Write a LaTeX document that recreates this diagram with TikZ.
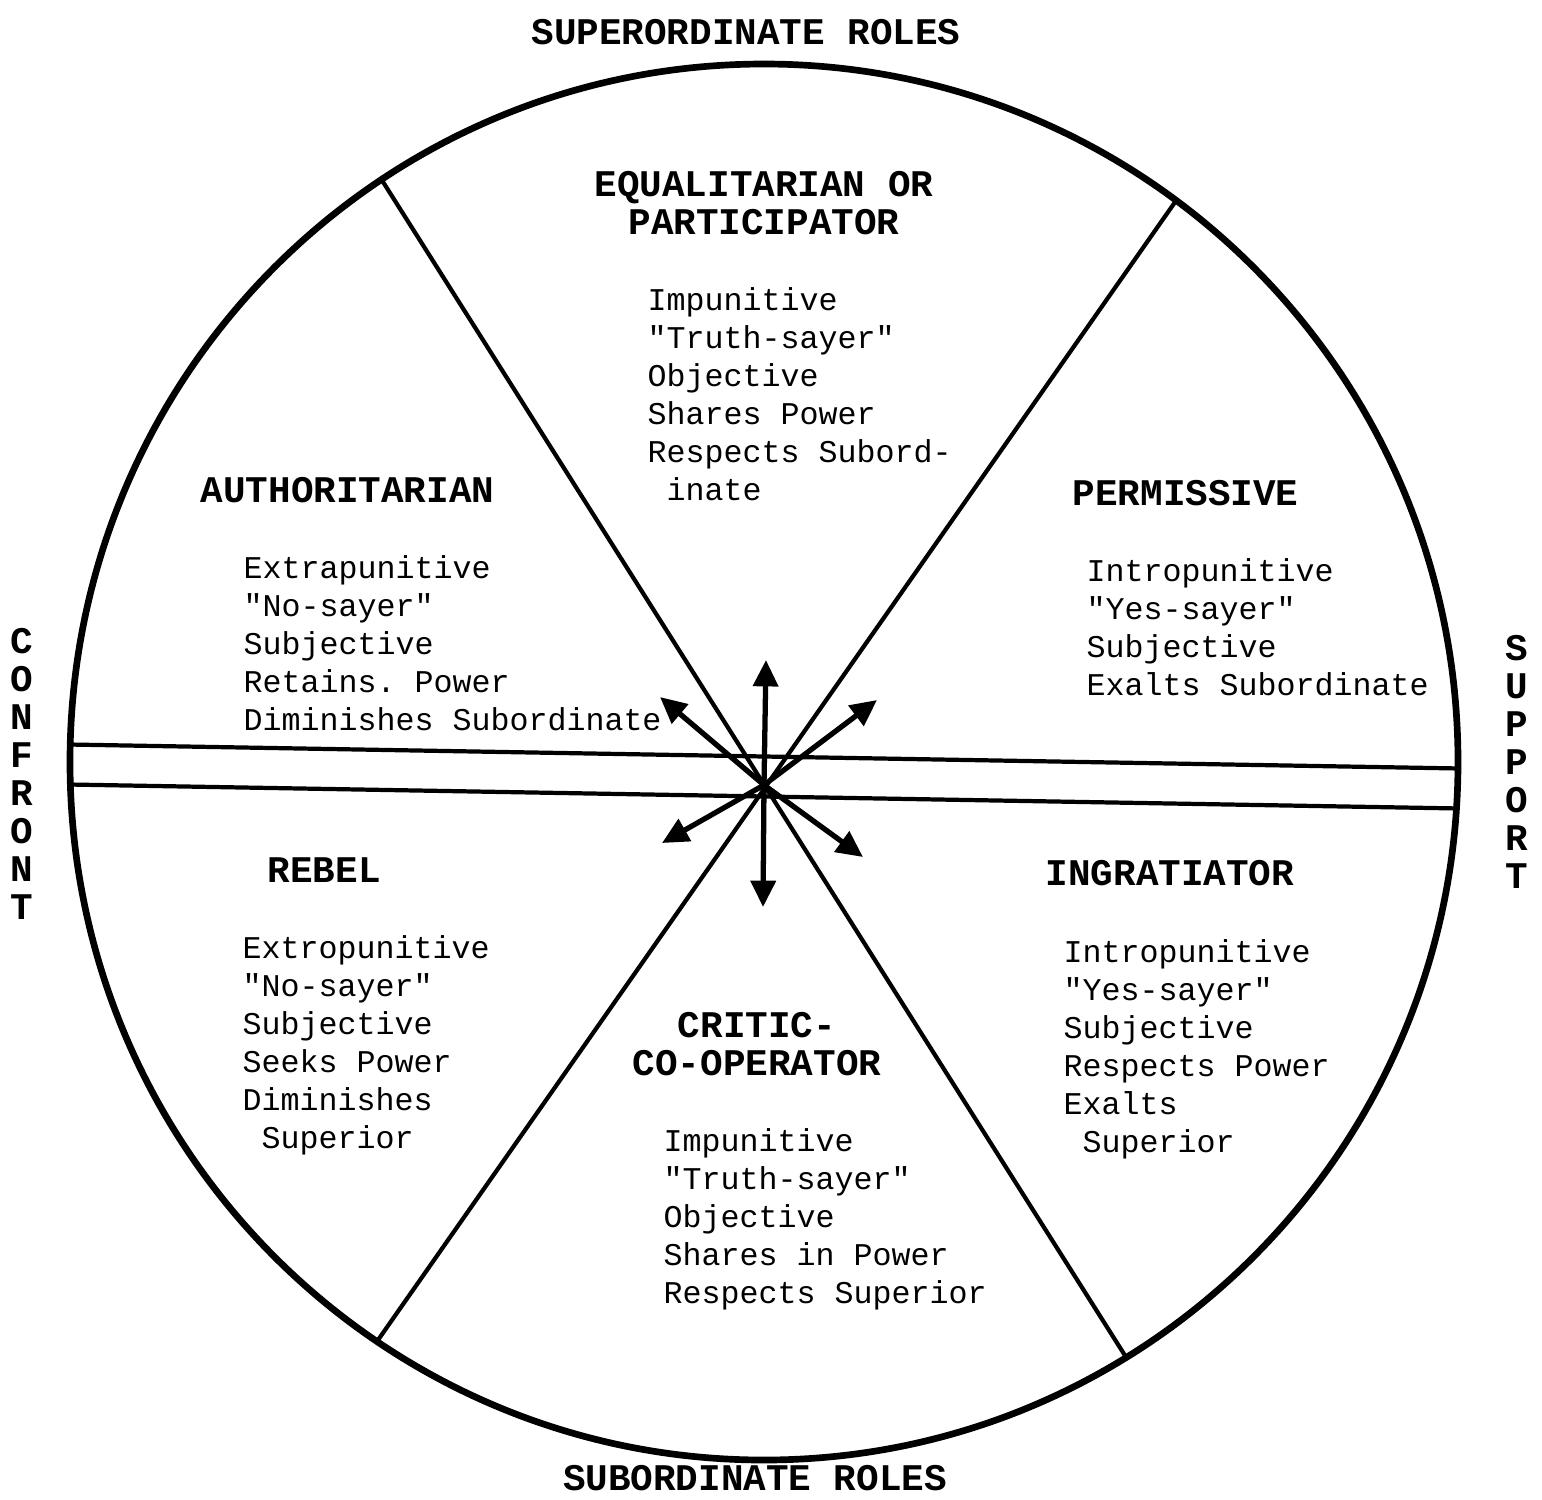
\documentclass[tikz,border=0pt]{standalone}
\usepackage{fontspec}
\setmonofont{Liberation Mono}
\usetikzlibrary{arrows.meta}
\tikzset{ROLE/.style={font=\ttfamily\bfseries\fontsize{10.7}{10.6}\selectfont, inner sep=0pt, align=center}}
\tikzset{TRAITS/.style={font=\ttfamily\fontsize{9}{10.8}\selectfont, inner sep=0pt, align=left, anchor=north west}}
\tikzset{SIDE/.style={font=\ttfamily\bfseries\fontsize{10.7}{10.8}\selectfont, inner sep=0pt, align=center}}
\tikzset{DIVIDER/.style={line width=1.2pt}}
\tikzset{ARROW/.style={line width=1.5pt, -{Triangle[length=7.5pt, width=7pt]}}}

\begin{document}
\begin{tikzpicture}[x=0.01cm, y=-0.01cm]
    \useasboundingbox (0,0) rectangle (1542,1499);

    % the wheel and its dividers
    \draw[line width=1.9pt] (764,762) ellipse (694 and 698);
    \begin{scope}
        \clip (764,762) ellipse (694 and 698);
        \draw[DIVIDER] (40,744) -- (1490,769);
        \draw[DIVIDER] (40,784) -- (1490,809);
        \draw[DIVIDER] (366,155) -- (1131,1365);
        \draw[DIVIDER] (1201,165) -- (364,1360);
    \end{scope}

    % arrows out of the hub
    \coordinate (hub) at (764,785);
    \foreach \nm/\px/\py in {up/766/660, down/763/907, nw/660/697, ne/877/700, sw/662/843, se/863/857} {
        \coordinate (tip-\nm) at (\px,\py);
        \draw[ARROW] (hub) -- (tip-\nm);
    }

    \node[ROLE] (n_super) at (746,32) {SUPERORDINATE ROLES};
    \node[ROLE] (n_sub) at (755,1478) {SUBORDINATE ROLES};
    \node[SIDE] (n_confront) at (22,774) {C\\O\\N\\F\\R\\O\\N\\T};
    \node[SIDE] (n_support) at (1517,762) {S\\U\\P\\P\\O\\R\\T};

    \node[ROLE] (n_equal) at (764,203) {EQUALITARIAN OR\\PARTICIPATOR};
    \node[TRAITS] (t_equal) at (647,287) {Impunitive\\"Truth-sayer"\\Objective\\Shares Power\\Respects Subord-\\\hspace{0.6em}inate};

    \node[ROLE, anchor=west] (n_auth) at (200,490) {AUTHORITARIAN};
    \node[TRAITS] (t_auth) at (243,555) {Extrapunitive\\"No-sayer"\\Subjective\\Retains. Power\\Diminishes Subordinate};

    \node[ROLE, anchor=west] (n_perm) at (1072,493) {PERMISSIVE};
    \node[TRAITS] (t_perm) at (1086,558) {Intropunitive\\"Yes-sayer"\\Subjective\\Exalts Subordinate};

    \node[ROLE, anchor=west] (n_rebel) at (267,870) {REBEL};
    \node[TRAITS] (t_rebel) at (242,935) {Extropunitive\\"No-sayer"\\Subjective\\Seeks Power\\Diminishes\\\hspace{0.6em}Superior};

    \node[ROLE] (n_critic) at (757,1044) {CRITIC-\\CO-OPERATOR};
    \node[TRAITS] (t_critic) at (663,1128) {Impunitive\\"Truth-sayer"\\Objective\\Shares in Power\\Respects Superior};

    \node[ROLE, anchor=west] (n_ingr) at (1045,873) {INGRATIATOR};
    \node[TRAITS] (t_ingr) at (1063,939) {Intropunitive\\"Yes-sayer"\\Subjective\\Respects Power\\Exalts\\\hspace{0.6em}Superior};
\end{tikzpicture}
\end{document}
